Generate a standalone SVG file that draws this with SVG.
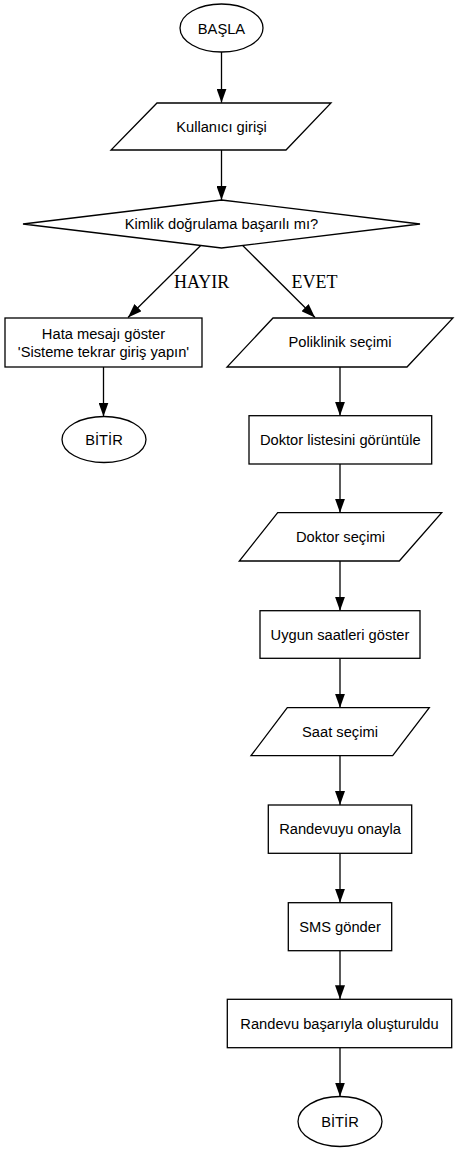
<svg xmlns="http://www.w3.org/2000/svg" width="459" height="1151" viewBox="0 0 459 1151">
<style>
.s{fill:#fff;stroke:#000;stroke-width:1.3}
.t{font-family:"Liberation Sans",Arial,sans-serif;font-size:14.7px;fill:#000;text-anchor:middle;dominant-baseline:central}
.l{font-family:"Liberation Serif","Times New Roman",serif;font-size:18px;fill:#000}
.c{stroke:#000;stroke-width:1.3;fill:none;marker-end:url(#a)}
</style>
<defs>
<marker id="a" markerUnits="userSpaceOnUse" markerWidth="14" markerHeight="10" refX="14" refY="5" orient="auto">
<path d="M0,0 L14,5 L0,10 z" fill="#000"/>
</marker>
</defs>
<rect width="459" height="1151" fill="#fff"/>
<g id="connectors">
<line class="c" x1="221.5" y1="52" x2="221.5" y2="102.7"/>
<line class="c" x1="221.5" y1="150" x2="221.5" y2="200"/>
<line class="c" x1="200.7" y1="245.5" x2="128" y2="317.5"/>
<line class="c" x1="242.7" y1="245.5" x2="315" y2="317.5"/>
<line class="c" x1="103.5" y1="367" x2="103.5" y2="416.5"/>
<line class="c" x1="340" y1="367" x2="340" y2="415.7"/>
<line class="c" x1="340" y1="464" x2="340" y2="512.7"/>
<line class="c" x1="340" y1="561" x2="340" y2="610.7"/>
<line class="c" x1="340" y1="658.3" x2="340" y2="707.7"/>
<line class="c" x1="340" y1="755.7" x2="340" y2="805"/>
<line class="c" x1="340" y1="853.3" x2="340" y2="902.7"/>
<line class="c" x1="340" y1="950.7" x2="340" y2="999.3"/>
<line class="c" x1="340" y1="1047.7" x2="340" y2="1096.5"/>
<text class="l" x="174" y="288">HAYIR</text>
<text class="l" x="291.5" y="288">EVET</text>
</g>
<g id="basla">
<ellipse class="s" cx="221.5" cy="28" rx="41.5" ry="24"/>
<text class="t" x="221.5" y="29">BAŞLA</text>
</g>
<g id="kullanici">
<polygon class="s" points="157,103 331,103 286,150 111,150"/>
<text class="t" x="221.5" y="126.5">Kullanıcı girişi</text>
</g>
<g id="kimlik">
<polygon class="s" points="221.5,200 420,224 221.5,248 23,224"/>
<text class="t" x="221.5" y="223.5">Kimlik doğrulama başarılı mı?</text>
</g>
<g id="hata">
<rect class="s" x="5" y="318" width="197" height="49"/>
<text class="t" x="103.5" y="333.5">Hata mesajı göster</text>
<text class="t" x="103.5" y="351.8">'Sisteme tekrar giriş yapın'</text>
</g>
<g id="bitir1">
<ellipse class="s" cx="104" cy="439.5" rx="42" ry="23"/>
<text class="t" x="104" y="440">BİTİR</text>
</g>
<g id="poliklinik">
<polygon class="s" points="273,318 453,318 407,367 227,367"/>
<text class="t" x="340" y="342">Poliklinik seçimi</text>
</g>
<g id="doktorliste">
<rect class="s" x="249" y="415.7" width="182.7" height="48.3"/>
<text class="t" x="340.3" y="440">Doktor listesini görüntüle</text>
</g>
<g id="doktorsecim">
<polygon class="s" points="277.7,512.7 441.7,512.7 399.3,561 239.3,561"/>
<text class="t" x="340.5" y="537">Doktor seçimi</text>
</g>
<g id="uygun">
<rect class="s" x="260" y="610.7" width="160" height="47.6"/>
<text class="t" x="340" y="634.5">Uygun saatleri göster</text>
</g>
<g id="saat">
<polygon class="s" points="287.3,707.7 429.3,707.7 392.7,755.7 251,755.7"/>
<text class="t" x="340" y="731.7">Saat seçimi</text>
</g>
<g id="onayla">
<rect class="s" x="268.3" y="805" width="143.4" height="48.3"/>
<text class="t" x="340" y="829">Randevuyu onayla</text>
</g>
<g id="sms">
<rect class="s" x="288.3" y="902.7" width="103.4" height="48"/>
<text class="t" x="340" y="926.7">SMS gönder</text>
</g>
<g id="basarili">
<rect class="s" x="227.3" y="999.3" width="224.4" height="48.4"/>
<text class="t" x="339.5" y="1023.5">Randevu başarıyla oluşturuldu</text>
</g>
<g id="bitir2">
<ellipse class="s" cx="340" cy="1121.5" rx="42" ry="25"/>
<text class="t" x="340" y="1121.5">BİTİR</text>
</g>
</svg>
